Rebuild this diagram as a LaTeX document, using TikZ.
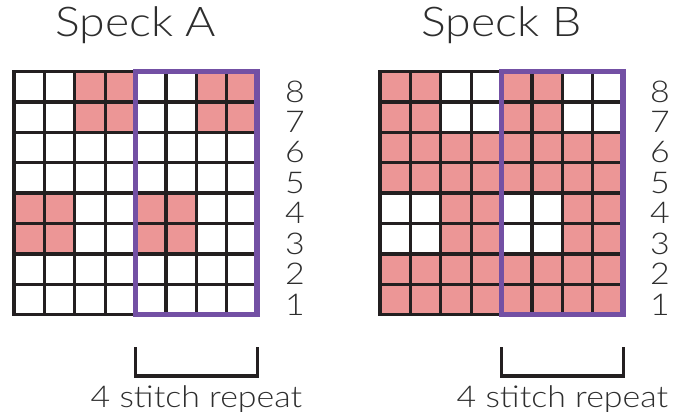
\documentclass[tikz,border=0pt]{standalone}
\usepackage{fontspec}
\setmainfont{Lato Light}[FakeStretch=1.13]
\usetikzlibrary{positioning,calc}
\definecolor{clPink}{HTML}{EC9696}
\definecolor{clRepeat}{HTML}{7350A4}
\definecolor{clGrid}{HTML}{231F20}
\definecolor{clText}{HTML}{2E2E2E}
\tikzset{
  cell/.style={fill=clPink},
  gridline/.style={draw=clGrid, line width=3.3pt, line cap=rect},
  repeatbox/.style={draw=clRepeat, line width=5.5pt, line cap=rect},
  bracket/.style={draw=clGrid, line width=3.3pt},
  title/.style={font=\fontsize{41}{46}\selectfont, text=clText, anchor=base, inner sep=0pt},
  rownum/.style={font=\fontsize{30}{32}\selectfont, text=clText, inner sep=0pt},
  caption/.style={font=\fontsize{30}{32}\selectfont, text=clText, anchor=base, inner sep=0pt},
}
\def\cw{30.4}

\begin{document}
\begin{tikzpicture}[x=1pt, y=-1pt]
  \path[use as bounding box, fill=white] (0,0) rectangle (673,412);

  % Speck A
  \begin{scope}[shift={(14,71.5)}]
    \foreach \c/\r in {3/8,4/8,7/8,8/8,3/7,4/7,7/7,8/7,1/4,2/4,5/4,6/4,1/3,2/3,5/3,6/3}
      \fill[cell] ({(\c-1)*\cw},{(8-\r)*\cw}) rectangle +(\cw,\cw);
    \foreach \i in {0,...,8}{
      \draw[gridline] ({\i*\cw},0) -- ({\i*\cw},{8*\cw});
      \draw[gridline] (0,{\i*\cw}) -- ({8*\cw},{\i*\cw});
    }
    \draw[repeatbox] ({4*\cw},0) rectangle ({8*\cw},{8*\cw});
    \foreach \r in {1,...,8}
      \node[rownum] (a-row\r) at (281,{(8.5-\r)*\cw+5}) {\r};
    \node[title] (titleA) at ({4*\cw},-34.5) {Speck A};
    % repeat bracket
    \coordinate (a-br-l) at ({4*\cw},275.5);
    \coordinate (a-br-r) at ({8*\cw},275.5);
    \draw[bracket] (a-br-l) -- ++(0,29) -| (a-br-r);
    \node[caption] (captionA) at ({6*\cw},335.5) {4 stitch repeat};
  \end{scope}

  % Speck B
  \begin{scope}[shift={(380,71.5)}]
    \foreach \c/\r in {1/8,2/8,5/8,6/8,1/7,2/7,5/7,6/7,3/4,4/4,7/4,8/4,3/3,4/3,7/3,8/3}
      \fill[cell] ({(\c-1)*\cw},{(8-\r)*\cw}) rectangle +(\cw,\cw);
    \foreach \r in {1,2,5,6}
      \fill[cell] (0,{(8-\r)*\cw}) rectangle ({8*\cw},{(9-\r)*\cw});
    \foreach \i in {0,...,8}{
      \draw[gridline] ({\i*\cw},0) -- ({\i*\cw},{8*\cw});
      \draw[gridline] (0,{\i*\cw}) -- ({8*\cw},{\i*\cw});
    }
    \draw[repeatbox] ({4*\cw},0) rectangle ({8*\cw},{8*\cw});
    \foreach \r in {1,...,8}
      \node[rownum] (b-row\r) at (280,{(8.5-\r)*\cw+5}) {\r};
    \node[title] (titleB) at ({4*\cw},-34.5) {Speck B};
    % repeat bracket
    \coordinate (b-br-l) at ({4*\cw},275.5);
    \coordinate (b-br-r) at ({8*\cw},275.5);
    \draw[bracket] (b-br-l) -- ++(0,29) -| (b-br-r);
    \node[caption] (captionB) at ({6*\cw},335.5) {4 stitch repeat};
  \end{scope}
\end{tikzpicture}
\end{document}
